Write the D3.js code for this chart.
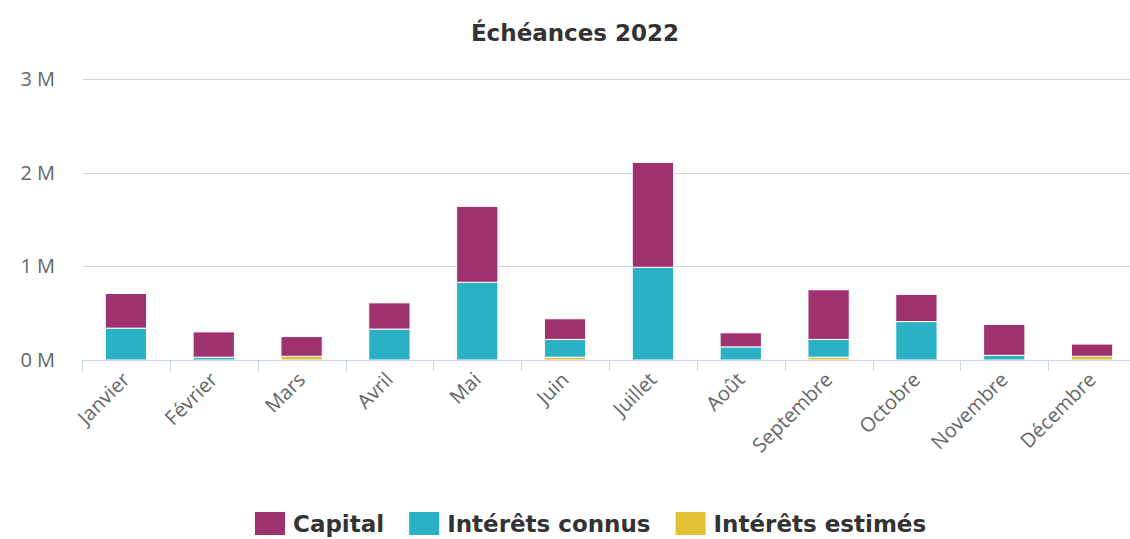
<!DOCTYPE html>
<html>
  <head>
    <meta charset="utf-8">
    <title>Échéances 2022</title>
<style type="text/css">
body{
  margin:0;
  background-color:#fff;
  font-family: 'Open Sans', sans-serif;
}
.grid line{ stroke:#d4d4d4; }
.ylab text{ fill:#666; font-size:20px; }
.xlab text{ fill:#666; font-size:20px; }
.bold{ font-family:'DejaVu Sans', sans-serif; font-weight:bold; fill:#333; }
</style>
    <script src="https://d3js.org/d3.v7.min.js"></script>
  </head>
  <body>
<svg width="1130" height="539"></svg>
<script>
var months = ["Janvier","Février","Mars","Avril","Mai","Juin","Juillet","Août","Septembre","Octobre","Novembre","Décembre"];
// montants en euros
var capital = [370000, 270000, 210000, 280000, 810000, 220000, 1120000, 150000, 530000, 290000, 330000, 130000];
var interetsConnus = [340000, 30000, 0, 330000, 830000, 190000, 990000, 140000, 190000, 410000, 50000, 0];
var interetsEstimes = [0, 0, 40000, 0, 0, 30000, 0, 0, 30000, 0, 0, 40000];
var yTicks = [0, 1000000, 2000000, 3000000];

var series = [
  {key: "estimes", name: "Intérêts estimés", color: "#e2c036", values: interetsEstimes},
  {key: "connus", name: "Intérêts connus", color: "#2ab1c6", values: interetsConnus},
  {key: "capital", name: "Capital", color: "#a0316f", values: capital}
];

var svg = d3.select("svg");

var rows = months.map(function(m, i) {
  var r = {mois: m};
  series.forEach(function(s) { r[s.key] = s.values[i]; });
  return r;
});

var x = d3.scaleBand().domain(months).range([82, 1136]).paddingInner(0.53).paddingOuter(0.265);
var y = d3.scaleLinear().domain([0, 3000000]).range([360, 79]);

// grille
svg.append("g").attr("class", "grid")
  .selectAll("line").data(yTicks.slice(1)).enter().append("line")
    .attr("x1", 83).attr("x2", 1130)
    .attr("y1", function(d) { return Math.round(y(d)) + 0.5; })
    .attr("y2", function(d) { return Math.round(y(d)) + 0.5; });

// axe y
svg.append("g").attr("class", "ylab")
  .selectAll("text").data(yTicks).enter().append("text")
    .attr("x", 55).attr("y", function(d) { return y(d) + 7; })
    .attr("text-anchor", "end")
    .text(function(d) { return d3.format("d")(d / 1e6) + " M"; });

// barres empilees
var stack = d3.stack().keys(series.map(function(s) { return s.key; }));
var layers = stack(rows);

svg.append("g").selectAll("g").data(layers).enter().append("g")
    .attr("fill", function(d, i) { return series[i].color; })
  .selectAll("rect").data(function(d) { return d; }).enter().append("rect")
    .filter(function(d) { return d[1] - d[0] > 0; })
    .attr("x", function(d) { return x(d.data.mois); })
    .attr("width", x.bandwidth())
    .attr("y", function(d) { return y(d[1]); })
    .attr("height", function(d) { return y(d[0]) - y(d[1]); })
    .attr("stroke", "#fff").attr("stroke-width", 1);

// axe x
var xAxis = svg.append("g").attr("class", "xlab");
xAxis.append("line")
  .attr("x1", 82).attr("x2", 1130).attr("y1", 360.5).attr("y2", 360.5)
  .attr("stroke", "#ccd6eb");
var step = x.step();
xAxis.selectAll("line.tick").data(months).enter().append("line")
  .attr("class", "tick")
  .attr("x1", function(d) { return Math.round(x(d) - x.paddingOuter() * step) + 0.5; })
  .attr("x2", function(d) { return Math.round(x(d) - x.paddingOuter() * step) + 0.5; })
  .attr("y1", 360).attr("y2", 371)
  .attr("stroke", "#ccd6eb");
xAxis.selectAll("text").data(months).enter().append("text")
  .attr("text-anchor", "end")
  .attr("transform", function(d) {
    var cx = x(d) + x.bandwidth() / 2 + 5;
    return "translate(" + cx + ",381) rotate(-45)";
  })
  .text(function(d) { return d; });

// titre
svg.append("text").attr("class", "bold")
  .attr("x", 575).attr("y", 41)
  .attr("text-anchor", "middle")
  .style("font-size", "23px")
  .text("Échéances 2022");

// legende
var legendOrder = [series[2], series[1], series[0]];
var legend = svg.append("g").attr("transform", "translate(255,512)");
var lx = 0;
legendOrder.forEach(function(s) {
  var g = legend.append("g").attr("transform", "translate(" + lx + ",0)");
  g.append("rect").attr("width", 30).attr("height", 23).attr("fill", s.color);
  var t = g.append("text").attr("class", "bold").attr("x", 38).attr("y", 20)
    .style("font-size", "23px")
    .text(s.name);
  lx += 38 + t.node().getComputedTextLength() + 25;
});
</script>
  </body>
</html>
